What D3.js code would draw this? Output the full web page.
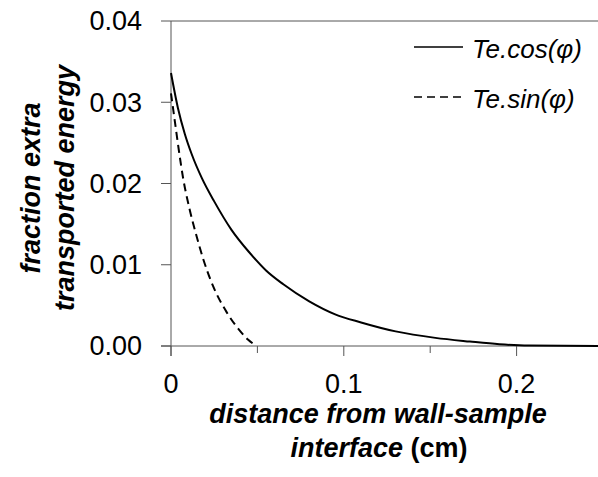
<!DOCTYPE html>
<html>
<head>
<meta charset="utf-8">
<script src="https://cdn.jsdelivr.net/npm/d3@7"></script>
<style>
  body { margin: 0; background: #fff; }
  svg text { font-family: 'Liberation Sans', Arial, sans-serif; }
</style>
</head>
<body>
<svg id="chart" width="598" height="477"></svg>
<script>
// distance (cm) and fraction for the two curves
const cosDist = [0, 0.004, 0.008, 0.012, 0.018, 0.025, 0.035, 0.045, 0.055, 0.065, 0.08, 0.095, 0.11, 0.13, 0.153, 0.173, 0.19, 0.207, 0.25];
const cosVals = [0.0336, 0.0293, 0.0261, 0.0236, 0.0206, 0.0178, 0.0143, 0.0116, 0.0093, 0.0076, 0.0055, 0.0039, 0.0029, 0.0018, 0.0010, 0.00055, 0.00022, 0.00005, 0];
const sinDist = [0, 0.002, 0.0046, 0.0069, 0.0108, 0.0147, 0.0185, 0.0243, 0.0321, 0.0398, 0.0445, 0.0495];
const sinVals = [0.0311, 0.0280, 0.0240, 0.0208, 0.0168, 0.0136, 0.0108, 0.0074, 0.0042, 0.0019, 0.0008, 0];

const xMajor = [0, 0.1, 0.2];
const xMinor = [0.05, 0.15];
const yTicks = [0, 0.01, 0.02, 0.03, 0.04];
const seriesNames = ["Te.cos(\u03C6)", "Te.sin(\u03C6)"];

const svg = d3.select("#chart");
const axisColor = "#555";

const x = d3.scaleLinear().domain([0, 0.25]).range([171, 603]);
const y = d3.scaleLinear().domain([0, 0.04]).range([346, 21]);

// frame: top line, y axis, x axis
svg.append("line")
  .attr("x1", x(0)).attr("x2", 598)
  .attr("y1", y(0.04)).attr("y2", y(0.04))
  .attr("stroke", axisColor);
svg.append("line")
  .attr("x1", x(0)).attr("x2", x(0))
  .attr("y1", y(0.04)).attr("y2", y(0) + 10)
  .attr("stroke", axisColor);
svg.append("line")
  .attr("x1", x(0) - 10).attr("x2", 598)
  .attr("y1", y(0)).attr("y2", y(0))
  .attr("stroke", axisColor);

// y ticks and labels
svg.selectAll(".ytick")
  .data(yTicks)
  .enter()
  .append("line")
  .attr("x1", x(0) - 10).attr("x2", x(0))
  .attr("y1", (d) => y(d)).attr("y2", (d) => y(d))
  .attr("stroke", axisColor);

svg.selectAll(".ylab")
  .data(yTicks)
  .enter()
  .append("text")
  .attr("x", 142)
  .attr("y", (d) => y(d))
  .attr("dy", "0.35em")
  .attr("text-anchor", "end")
  .style("font-size", "27px")
  .text((d) => d3.format(".2f")(d));

// x ticks
svg.selectAll(".xmaj")
  .data(xMajor)
  .enter()
  .append("line")
  .attr("x1", (d) => x(d)).attr("x2", (d) => x(d))
  .attr("y1", y(0)).attr("y2", y(0) + 10)
  .attr("stroke", axisColor);
svg.selectAll(".xmin")
  .data(xMinor)
  .enter()
  .append("line")
  .attr("x1", (d) => x(d)).attr("x2", (d) => x(d))
  .attr("y1", y(0)).attr("y2", y(0) + 7)
  .attr("stroke", axisColor);

svg.selectAll(".xlab")
  .data(xMajor)
  .enter()
  .append("text")
  .attr("x", (d) => x(d))
  .attr("y", 393)
  .attr("text-anchor", "middle")
  .style("font-size", "27px")
  .text((d) => (d === 0 ? "0" : d3.format(".1f")(d)));

// curves
const line = d3.line()
  .x((d) => x(d[0]))
  .y((d) => y(d[1]))
  .curve(d3.curveMonotoneX);

svg.append("path")
  .datum(d3.zip(cosDist, cosVals))
  .attr("d", line)
  .attr("fill", "none")
  .attr("stroke", "#000")
  .attr("stroke-width", 2);

svg.append("path")
  .datum(d3.zip(sinDist, sinVals))
  .attr("d", line)
  .attr("fill", "none")
  .attr("stroke", "#000")
  .attr("stroke-width", 2)
  .attr("stroke-dasharray", "8,5");

// legend
const legend = svg.append("g");
seriesNames.forEach((name, i) => {
  const ly = 47 + i * 50;
  legend.append("line")
    .attr("x1", 414).attr("x2", 463)
    .attr("y1", ly).attr("y2", ly)
    .attr("stroke", "#000")
    .attr("stroke-width", 1.5)
    .attr("stroke-dasharray", i === 1 ? "8,5" : null);
  legend.append("text")
    .attr("x", 472)
    .attr("y", ly + 11)
    .style("font-size", "26px")
    .style("font-style", "italic")
    .text(name);
});

// axis titles
const xTitle = svg.append("text")
  .attr("text-anchor", "middle")
  .style("font-size", "27px")
  .style("font-weight", "bold");
xTitle.append("tspan")
  .attr("x", 378).attr("y", 423)
  .style("font-style", "italic")
  .text("distance from wall-sample");
const xt2 = xTitle.append("tspan")
  .attr("x", 379).attr("y", 457);
xt2.append("tspan").style("font-style", "italic").text("interface");
xt2.append("tspan").text(" (cm)");

const yTitle = svg.append("text")
  .attr("transform", "translate(0,188) rotate(-90)")
  .attr("text-anchor", "middle")
  .style("font-size", "27px")
  .style("font-weight", "bold")
  .style("font-style", "italic");
yTitle.append("tspan").attr("x", 0).attr("y", 40).text("fraction extra");
yTitle.append("tspan").attr("x", 0).attr("y", 74).text("transported energy");
</script>
</body>
</html>
